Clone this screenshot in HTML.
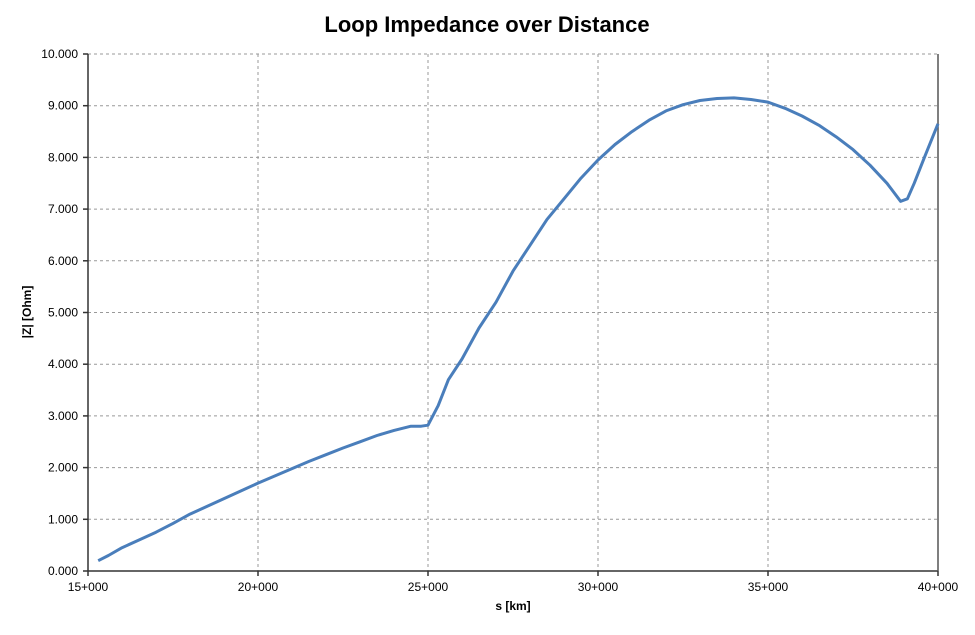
<!DOCTYPE html>
<html><head><meta charset="utf-8"><style>
body{margin:0;background:#fff;}
svg text{font-family:"Liberation Sans",Arial,sans-serif;fill:#000;}
</style></head><body>
<svg id="chart" width="975" height="630" xmlns="http://www.w3.org/2000/svg">
<text x="487" y="32" text-anchor="middle" font-size="22" font-weight="bold">Loop Impedance over Distance</text>
<g id="grid"></g><g id="axes"></g>
<text x="513" y="610" text-anchor="middle" font-size="12" font-weight="bold">s [km]</text>
<text transform="translate(31,312) rotate(-90)" text-anchor="middle" font-size="12" font-weight="bold">|Z| [Ohm]</text>
</svg>
<script>
const xs=[15.3,15.6,16,16.5,17,17.5,18,18.5,19,19.5,20,20.5,21,21.5,22,22.5,23,23.5,24,24.5,24.8,25,25.3,25.6,26,26.5,27,27.5,28,28.5,29,29.5,30,30.5,31,31.5,32,32.5,33,33.5,34,34.5,35,35.5,36,36.5,37,37.5,38,38.5,38.9,39.1,39.3,39.6,40];
const zs=[0.2,0.3,0.45,0.6,0.75,0.92,1.1,1.25,1.4,1.55,1.7,1.84,1.98,2.12,2.25,2.38,2.5,2.62,2.72,2.8,2.8,2.82,3.2,3.7,4.1,4.7,5.2,5.8,6.3,6.8,7.2,7.6,7.95,8.25,8.5,8.72,8.9,9.02,9.1,9.14,9.15,9.12,9.07,8.95,8.8,8.62,8.4,8.15,7.85,7.5,7.15,7.2,7.5,8.0,8.65];
const xTicks=[15,20,25,30,35,40];
const yTicks=[0,1,2,3,4,5,6,7,8,9,10];
const X0=88,X1=938,Y0=571,Y1=54;
const sx=v=>X0+(v-15)/25*(X1-X0);
const sy=v=>Y0-v/10*(Y0-Y1);
const NS="http://www.w3.org/2000/svg";
const svg=document.getElementById('chart');
function mk(t,a,p){const e=document.createElementNS(NS,t);for(const k in a)e.setAttribute(k,a[k]);(p||svg).appendChild(e);return e;}
const grid=document.getElementById('grid'),axes=document.getElementById('axes');
yTicks.forEach(v=>{
 if(v>0){const l=mk('line',{x1:X0,x2:X1,y1:sy(v),y2:sy(v),stroke:'#999','stroke-dasharray':'3,3','stroke-width':1},grid);
 
 }
 const tk=mk('line',{x1:X0-5,x2:X0,y1:sy(v),y2:sy(v),stroke:'#333','stroke-width':1.5},axes);
 
 
 const t=mk('text',{x:X0-10,y:sy(v)+4,'text-anchor':'end','font-size':12},axes);
 t.textContent=v.toFixed(3).replace('.', '.');
 
 
});
xTicks.forEach(v=>{
 if(v>15&&v<40){const l=mk('line',{x1:sx(v),x2:sx(v),y1:Y1,y2:Y0,stroke:'#999','stroke-dasharray':'3,3','stroke-width':1},grid);
 
 }
 const tk=mk('line',{x1:sx(v),x2:sx(v),y1:Y0,y2:Y0+5,stroke:'#333','stroke-width':1.5},axes);
 
 
 const t=mk('text',{x:sx(v),y:Y0+20,'text-anchor':'middle','font-size':12},axes);
 t.textContent=v+'+000';
 
 
});
const ya=mk('line',{x1:X0,x2:X0,y1:Y1,y2:Y0,stroke:'#333','stroke-width':1.5},axes);


const xa=mk('line',{x1:X0,x2:X1,y1:Y0,y2:Y0,stroke:'#333','stroke-width':1.5},axes);


const rb=mk('line',{x1:X1,x2:X1,y1:Y1,y2:Y0,stroke:'#555','stroke-width':1.5},axes);


const d=xs.map((x,i)=>(i?'L':'M')+sx(x).toFixed(1)+','+sy(zs[i]).toFixed(1)).join(' ');
const p=mk('path',{d:d,fill:'none',stroke:'#4a7ebb','stroke-width':3,'stroke-linejoin':'round'});


</script>
</body></html>
